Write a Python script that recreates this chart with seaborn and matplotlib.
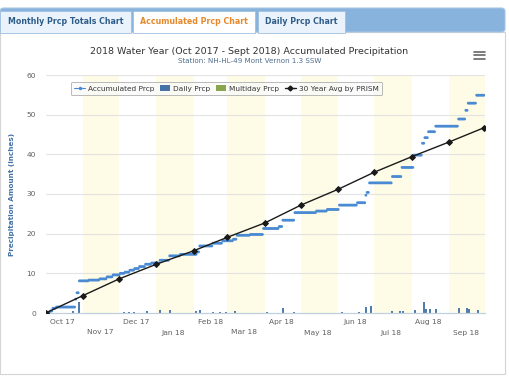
import matplotlib
matplotlib.use("Agg")
import matplotlib.pyplot as plt
import numpy as np
import pandas as pd
import seaborn as sns
from matplotlib.lines import Line2D
from matplotlib.patches import Patch, Rectangle, FancyBboxPatch

sns.set_style("white")
plt.rcParams["font.family"] = ["DejaVu Sans"]

# ---------------------------------------------------------------
# Data
# ---------------------------------------------------------------
# accumulated precipitation, value holds until next reading (inches)
acc_dates = [
    "2017-10-01", "2017-10-05", "2017-10-07", "2017-10-10", "2017-10-26",
    "2017-10-27", "2017-10-29", "2017-11-06", "2017-11-15", "2017-11-21",
    "2017-11-26", "2017-12-02", "2017-12-06", "2017-12-10", "2017-12-14",
    "2017-12-18", "2017-12-23", "2017-12-28", "2018-01-04", "2018-01-12",
    "2018-01-21", "2018-02-04", "2018-02-06", "2018-02-17", "2018-02-25",
    "2018-03-06", "2018-03-09", "2018-03-20", "2018-03-31", "2018-04-13",
    "2018-04-16", "2018-04-26", "2018-05-14", "2018-05-23", "2018-06-02",
    "2018-06-17", "2018-06-24", "2018-06-25", "2018-06-27", "2018-07-16",
    "2018-07-24", "2018-08-03", "2018-08-10", "2018-08-12", "2018-08-15",
    "2018-08-21", "2018-09-09", "2018-09-15", "2018-09-17", "2018-09-24",
]
acc_values = [
    0.0, 0.5, 1.2, 1.5, 3.5,
    5.1, 8.1, 8.3, 8.6, 9.1,
    9.6, 10.0, 10.3, 10.8, 11.2,
    11.7, 12.3, 12.6, 13.3, 14.4,
    14.8, 15.4, 16.9, 17.6, 18.2,
    18.6, 19.6, 19.8, 21.3, 21.8,
    23.4, 25.3, 25.7, 26.1, 27.2,
    27.8, 29.7, 30.4, 32.8, 34.4,
    36.7, 39.8, 42.8, 44.2, 45.7,
    47.1, 48.9, 51.1, 52.9, 54.9,
]

# daily precipitation bars (inches)
daily_dates = [
    "2017-10-24", "2017-10-29", "2017-11-17", "2017-11-22", "2017-12-05",
    "2017-12-09", "2017-12-13", "2017-12-24", "2018-01-04", "2018-01-12",
    "2018-02-03", "2018-02-06", "2018-02-17", "2018-02-23", "2018-02-28",
    "2018-03-07", "2018-04-03", "2018-04-16", "2018-04-25", "2018-05-19",
    "2018-06-04", "2018-06-18", "2018-06-24", "2018-06-28", "2018-07-16",
    "2018-07-22", "2018-07-25", "2018-08-04", "2018-08-11", "2018-08-13",
    "2018-08-16", "2018-08-21", "2018-09-09", "2018-09-16", "2018-09-18",
    "2018-09-25",
]
daily_values = [
    0.4, 2.8, 0.1, 0.1, 0.15,
    0.15, 0.3, 0.4, 0.8, 0.8,
    0.5, 0.7, 0.2, 0.15, 0.2,
    0.6, 0.2, 1.2, 0.3, 0.1,
    0.2, 0.3, 1.4, 1.8, 0.6,
    0.5, 0.5, 0.8, 2.7, 1.0,
    1.1, 1.1, 1.2, 1.2, 1.0,
    0.8,
]

# 30 year PRISM normal, cumulative at month starts
prism_dates = [
    "2017-10-01", "2017-11-01", "2017-12-01", "2018-01-01", "2018-02-01",
    "2018-03-01", "2018-04-01", "2018-05-01", "2018-06-01", "2018-07-01",
    "2018-08-01", "2018-09-01", "2018-09-30",
]
prism_values = [0.0, 4.4, 8.6, 12.3, 15.7, 19.1, 22.7, 27.2, 31.2, 35.5,
                39.4, 43.1, 46.7]

month_labels = ["Oct 17", "Nov 17", "Dec 17", "Jan 18", "Feb 18", "Mar 18",
                "Apr 18", "May 18", "Jun 18", "Jul 18", "Aug 18", "Sep 18"]

# ---------------------------------------------------------------
# Build frames
# ---------------------------------------------------------------
days = pd.date_range("2017-10-01", "2018-09-30", freq="D")
acc = pd.Series(acc_values, index=pd.to_datetime(acc_dates)).reindex(days).ffill()
acc_df = pd.DataFrame({"date": days, "accum": acc.values})
prism_df = pd.DataFrame({"date": pd.to_datetime(prism_dates), "prism": prism_values})
daily_df = pd.DataFrame({"date": pd.to_datetime(daily_dates), "prcp": daily_values})

W, H = 510, 382
fig = plt.figure(figsize=(W / 100, H / 100), dpi=100)


def fx(px):
    return px / W


def fy(py):
    return 1 - py / H


# ---------------------------------------------------------------
# Web page frame: tabs and panel
# ---------------------------------------------------------------
fig.patches.append(Rectangle((fx(0), fy(374)), fx(505), fy(32) - fy(374),
                             transform=fig.transFigure, facecolor="white",
                             edgecolor="#d4d4d4", lw=0.8, zorder=0))
fig.patches.append(FancyBboxPatch((fx(0), fy(32)), fx(505), fy(8) - fy(32),
                                  boxstyle="round,pad=0,rounding_size=0.008",
                                  transform=fig.transFigure, facecolor="#88b3dd",
                                  edgecolor="#a9c6e2", lw=0.8, zorder=1))
tabs = [
    (0, 131, "Monthly Prcp Totals Chart", "#eaf3fb", "#2f5d8a"),
    (133, 255, "Accumulated Prcp Chart", "white", "#e5892c"),
    (258, 345, "Daily Prcp Chart", "#eaf3fb", "#2f5d8a"),
]
for x0, x1, txt, bg, fg in tabs:
    fig.patches.append(Rectangle((fx(x0), fy(33)), fx(x1 - x0), fy(11) - fy(33),
                                 transform=fig.transFigure, facecolor=bg,
                                 edgecolor="#9fc0de", lw=0.6, zorder=2))
    fig.text(fx((x0 + x1) / 2), fy(22), txt, ha="center", va="center",
             fontsize=5.7, fontweight="bold", color=fg, zorder=3)

fig.text(fx(249), fy(51), "2018 Water Year (Oct 2017 - Sept 2018) Accumulated Precipitation",
         ha="center", va="center", fontsize=6.8, color="#333333")
fig.text(fx(250), fy(61), "Station: NH-HL-49 Mont Vernon 1.3 SSW",
         ha="center", va="center", fontsize=5.1, color="#4d6c8c")

# hamburger menu
for yy in (51.5, 55, 58.5):
    fig.lines.append(Line2D([fx(474), fx(485)], [fy(yy), fy(yy)],
                            transform=fig.transFigure, color="#666666", lw=1.2))

# ---------------------------------------------------------------
# Chart
# ---------------------------------------------------------------
ax = fig.add_axes([fx(45.7), fy(313), fx(485.1) - fx(45.7), fy(75) - fy(313)])
ax.set_zorder(5)
ax.patch.set_alpha(0)

start = pd.Timestamp("2017-10-01")
end = pd.Timestamp("2018-10-01")
month_starts = pd.date_range(start, end, freq="MS")
for i in range(1, 12, 2):
    ax.axvspan(month_starts[i], month_starts[i + 1], color="#fefce6", lw=0, zorder=0)

for v in range(10, 61, 10):
    ax.axhline(v, color="#e3e3e3", lw=0.8, zorder=1)

# daily bars, drawn as thin stems
ax.vlines(daily_df["date"], 0, daily_df["prcp"], color="#3f6fa6", lw=1.3, zorder=2)

sns.scatterplot(data=acc_df, x="date", y="accum", ax=ax, marker="o", s=4,
                color="#4a8ad3", edgecolor="none", zorder=3, legend=False)

sns.lineplot(data=prism_df, x="date", y="prism", ax=ax, color="#1a1a1a", lw=1.0,
             marker="D", markersize=3, markeredgecolor="#1a1a1a", zorder=4,
             legend=False)

ax.set_xlim(start, end)
ax.set_ylim(0, 60)

# x ticks: month starts as tick marks, labels mid month, staggered
ax.set_xticks(month_starts, minor=True)
mid = month_starts[:-1] + pd.Timedelta(days=14)
ax.set_xticks(mid)
ax.set_xticklabels([lab if i % 2 == 0 else "\n" + lab for i, lab in enumerate(month_labels)],
                   fontsize=5.4, color="#606060", linespacing=1.85)
ax.tick_params(axis="x", which="major", length=0, pad=4.5)
ax.tick_params(axis="x", which="minor", length=3.5, color="#c0d0e0", width=0.8)

ax.set_yticks(range(0, 61, 10))
ax.set_yticklabels([str(v) for v in range(0, 61, 10)], fontsize=5.4, color="#606060")
ax.tick_params(axis="y", length=0, pad=7)
ax.set_ylabel("Precipitation Amount (inches)", fontsize=5.2, color="#4572a7",
              fontweight="bold", labelpad=8)
ax.set_xlabel("")

for side in ("top", "right", "left"):
    ax.spines[side].set_visible(False)
ax.spines["bottom"].set_color("#c0d0e0")
ax.spines["bottom"].set_linewidth(0.9)

handles = [
    Line2D([0], [0], color="#4a8ad3", lw=0.8, marker="o", markersize=1.5),
    Patch(facecolor="#4572a7", edgecolor="none"),
    Patch(facecolor="#89a54e", edgecolor="none"),
    Line2D([0], [0], color="#1a1a1a", lw=1.0, marker="D", markersize=2.5),
]
labels = ["Accumulated Prcp", "Daily Prcp", "Multiday Prcp", "30 Year Avg by PRISM"]
leg = ax.legend(handles, labels, ncol=4, loc="upper left",
                bbox_to_anchor=((67 - 45.7) / 439.4, (313 - 78) / 238),
                fontsize=5.3, frameon=True, fancybox=True, borderpad=0.5,
                handlelength=1.4, handletextpad=0.4, columnspacing=0.8,
                labelcolor="#333333")
leg.get_frame().set_edgecolor("#a8a8a8")
leg.get_frame().set_linewidth(0.7)
leg.get_frame().set_facecolor("#fafafa")

fig.savefig("out.png", dpi=100)
